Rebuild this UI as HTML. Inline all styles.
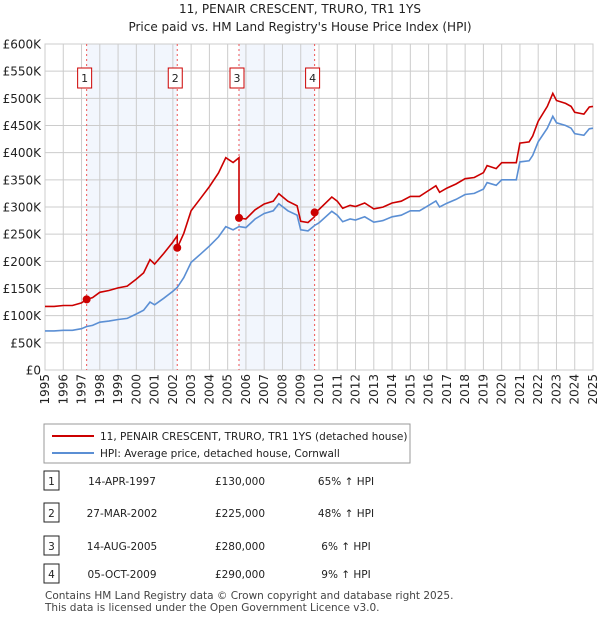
<!DOCTYPE html>
<html><head><meta charset="utf-8"><style>
body{margin:0;background:#fff;font-family:"DejaVu Sans","Liberation Sans",sans-serif;}
svg text{font-family:"DejaVu Sans","Liberation Sans",sans-serif;}
</style></head><body>
<svg id="c" width="600" height="620" xmlns="http://www.w3.org/2000/svg">
<text x="300" y="13" text-anchor="middle" font-size="12" fill="#222">11, PENAIR CRESCENT, TRURO, TR1 1YS</text>
<text x="300" y="31" text-anchor="middle" font-size="12" fill="#222">Price paid vs. HM Land Registry's House Price Index (HPI)</text>
<g id="plot"></g>
<g>
<rect x="44" y="424" width="366" height="39" fill="#fff" stroke="#999"/>
<line x1="52" y1="436" x2="94" y2="436" stroke="#cc0000" stroke-width="2"/>
<text x="100" y="440" font-size="10.5" fill="#222">11, PENAIR CRESCENT, TRURO, TR1 1YS (detached house)</text>
<line x1="52" y1="453" x2="94" y2="453" stroke="#5b8fd4" stroke-width="2"/>
<text x="100" y="457" font-size="10.5" fill="#222">HPI: Average price, detached house, Cornwall</text>
</g>
<g id="table" font-size="11" fill="#222"></g>
<text x="45" y="599" font-size="10.5" fill="#444">Contains HM Land Registry data © Crown copyright and database right 2025.</text>
<text x="45" y="611" font-size="10.5" fill="#444">This data is licensed under the Open Government Licence v3.0.</text>
</svg>
<script>
const hpiYears=[1995,1995.5,1996,1996.5,1997,1997.28,1997.6,1998,1998.5,1999,1999.5,2000,2000.4,2000.75,2001,2001.5,2002,2002.24,2002.6,2003,2003.5,2004,2004.5,2004.9,2005.3,2005.62,2006,2006.5,2007,2007.5,2007.8,2008.3,2008.8,2009,2009.4,2009.76,2010,2010.7,2011,2011.3,2011.7,2012,2012.5,2013,2013.5,2014,2014.5,2015,2015.5,2016,2016.4,2016.6,2017,2017.5,2018,2018.5,2019,2019.2,2019.7,2020,2020.8,2021,2021.5,2021.7,2022,2022.5,2022.8,2023,2023.5,2023.8,2024,2024.5,2024.8,2025];
const hpiValues=[72,72,73,73,76,80,82,88,90,93,95,103,110,125,120,132,145,152,170,198,213,228,245,264,258,264,262,278,288,293,306,293,285,258,256,266,271,292,285,273,278,276,282,272,275,282,285,293,293,303,311,300,307,314,323,325,333,345,340,350,350,383,385,395,420,445,467,455,450,445,435,432,444,445];
const saleYears=[1997.28,2002.24,2005.62,2009.76];
const salePrices=[130,225,280,290];
const saleDates=["14-APR-1997","27-MAR-2002","14-AUG-2005","05-OCT-2009"];
const salePriceLabels=["£130,000","£225,000","£280,000","£290,000"];
const saleHpiLabels=["65% ↑ HPI","48% ↑ HPI","6% ↑ HPI","9% ↑ HPI"];
const yTicks=[0,50,100,150,200,250,300,350,400,450,500,550,600];
const yTickLabels=["£0","£50K","£100K","£150K","£200K","£250K","£300K","£350K","£400K","£450K","£500K","£550K","£600K"];
const xTicks=[1995,1996,1997,1998,1999,2000,2001,2002,2003,2004,2005,2006,2007,2008,2009,2010,2011,2012,2013,2014,2015,2016,2017,2018,2019,2020,2021,2022,2023,2024,2025];

const L=45,R=593,T=44,B=370;
const X=y=>L+(y-1995)/30*(R-L);
const Y=v=>B-v/600*(B-T);
const NS="http://www.w3.org/2000/svg";
const g=document.getElementById('plot');
function mk(tag,a,parent){const e=document.createElementNS(NS,tag);for(const k in a)e.setAttribute(k,a[k]);(parent||g).appendChild(e);return e;}
function hpiAt(t){for(let i=1;i<hpiYears.length;i++){if(t<=hpiYears[i]){const f=(t-hpiYears[i-1])/(hpiYears[i]-hpiYears[i-1]);return hpiValues[i-1]+f*(hpiValues[i]-hpiValues[i-1]);}}return hpiValues[hpiValues.length-1];}
for(let k=0;k<saleYears.length;k+=2){
 const r=mk('rect',{x:X(saleYears[k]),y:T,width:X(saleYears[k+1])-X(saleYears[k]),height:B-T,fill:'#f2f6fd'});
 
 
}
yTicks.forEach((v,i)=>{
 const l=mk('line',{x1:L,x2:R,y1:Y(v),y2:Y(v),stroke:'#ccc'});
 
 
 const t=mk('text',{x:L-4,y:Y(v)+4.5,'text-anchor':'end','font-size':12,fill:'#222'});
 t.textContent=yTickLabels[i];
 
 
});
xTicks.forEach(yr=>{
 const l=mk('line',{x1:X(yr),x2:X(yr),y1:T,y2:B,stroke:'#ccc'});
 
 
 const t=mk('text',{x:0,y:0,'text-anchor':'end','font-size':12,fill:'#222',transform:`translate(${X(yr)+4},${B+4}) rotate(-90)`});
 t.textContent=yr;
 
 
});
mk('rect',{x:L,y:T,width:R-L,height:B-T,fill:'none',stroke:'#ccc'});
saleYears.forEach((s,k)=>{
 const l=mk('line',{x1:X(s),x2:X(s),y1:T,y2:B,stroke:'#e55','stroke-dasharray':'2,3'});
 
 
 const bx=mk('rect',{x:X(s)-9,y:68,width:14,height:20,fill:'#fff',stroke:'#cc0000'});
 
 
 const t=mk('text',{x:X(s)-2,y:82,'text-anchor':'middle','font-size':11,fill:'#222'});
 t.textContent=k+1;
 
 
});
let d='';hpiYears.forEach((yr,i)=>{d+=(i?'L':'M')+X(yr).toFixed(1)+','+Y(hpiValues[i]).toFixed(1);});
const hp=mk('path',{d,fill:'none',stroke:'#5b8fd4','stroke-width':1.6});


function priceAt(t){let k=0;for(let i=0;i<saleYears.length;i++)if(t>=saleYears[i])k=i;return hpiAt(t)*salePrices[k]/hpiAt(saleYears[k]);}
let pts=[];
hpiYears.forEach(t=>pts.push([t,priceAt(t)]));
saleYears.forEach((s,k)=>{if(k>0){pts.push([s-0.001,priceAt(s-0.001)]);}pts.push([s,salePrices[k]]);});
pts.sort((a,b)=>a[0]-b[0]);
d='';pts.forEach((p,i)=>{d+=(i?'L':'M')+X(p[0]).toFixed(1)+','+Y(p[1]).toFixed(1);});
const pp=mk('path',{d,fill:'none',stroke:'#cc0000','stroke-width':1.6});


saleYears.forEach((s,k)=>{
 const c=mk('circle',{cx:X(s),cy:Y(salePrices[k]),r:4,fill:'#cc0000'});
 
 
});
const tb=document.getElementById('table');
const rowY=[481,513,546,574];
saleYears.forEach((s,k)=>{
 const y=rowY[k];
 const b=mk('rect',{x:44,y:y-10,width:15,height:19,fill:'#fff',stroke:'#222'},tb);
 
 
 const vals=[[51.5,String(k+1)],[122,saleDates[k]],[240,salePriceLabels[k]],[346,saleHpiLabels[k]]];
 vals.forEach(v=>{
  const t=mk('text',{x:v[0],y:y+4,'text-anchor':'middle','font-size':10.5,fill:'#222'},tb);
  t.textContent=v[1];
  
  
 });
});
</script>
</body></html>
